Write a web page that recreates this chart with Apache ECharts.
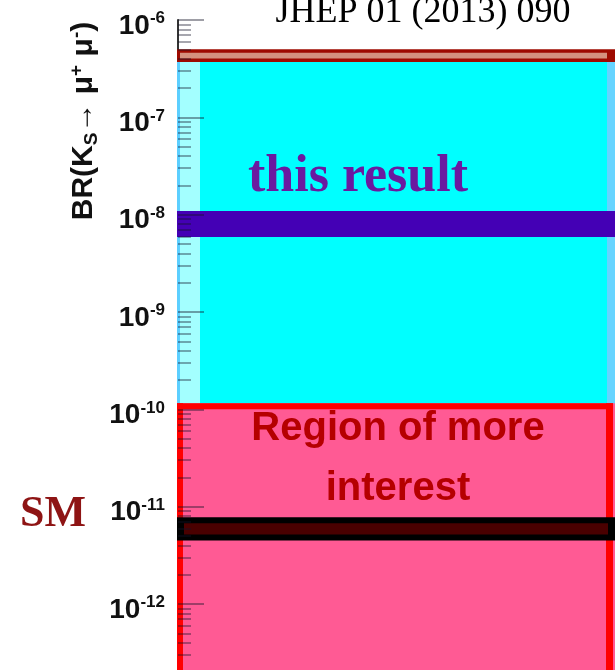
<!DOCTYPE html>
<html>
<head>
<meta charset="utf-8">
<script src="https://cdn.jsdelivr.net/npm/echarts@6/dist/echarts.min.js"></script>
<style>
  html, body { margin: 0; padding: 0; background: #ffffff; }
  #chart { width: 615px; height: 670px; }
</style>
</head>
<body>
<div id="chart"></div>
<script>
// Branching-ratio axis: decades labelled as 10^n
const decadeExponents = [-12, -11, -10, -9, -8, -7, -6];
const minorMultipliers = [2, 3, 4, 5, 6, 7, 8, 9];
const axisMin = 2.1e-13;
const axisMax = 1e-6;

// Branching-ratio ranges drawn as horizontal bands
const previousLimitBand = [3.7e-7, 5.0e-7];
const openRegion = [1e-10, 3.7e-7];
const thisResultBand = [5.9e-9, 1.09e-8];
const interestRegion = [2.1e-13, 1e-10];
const smBand = [4.5e-12, 7.8e-12];

const majorTicks = decadeExponents.map(e => Math.pow(10, e));
const minorTicks = [];
[-13].concat(decadeExponents).forEach(e => {
  minorMultipliers.forEach(m => {
    const v = m * Math.pow(10, e);
    if (v > axisMin && v < axisMax) minorTicks.push(v);
  });
});

const chart = echarts.init(document.getElementById('chart'), null, { renderer: 'canvas' });

function bandBox(params, api) {
  const cs = params.coordSys;
  return {
    left: cs.x,
    right: cs.x + cs.width,
    top: api.coord([0, api.value(1)])[1],
    bottom: api.coord([0, api.value(0)])[1]
  };
}
function rect(x0, y0, x1, y1, fill) {
  return { type: 'rect', shape: { x: x0, y: y0, width: x1 - x0, height: y1 - y0 }, style: { fill: fill } };
}

const logAxisBase = {
  type: 'log', logBase: 10, min: axisMin, max: axisMax, position: 'left',
  splitLine: { show: false }, minorTick: { show: false }, minorSplitLine: { show: false }
};

const option = {
  animation: false,
  grid: { left: 178, right: 0, top: 20, bottom: 0 },
  xAxis: { type: 'value', min: 0, max: 1, show: false },
  yAxis: [
    Object.assign({}, logAxisBase, {
      z: 5,
      axisLine: { show: false },
      axisTick: { show: true, inside: true, length: 26, customValues: majorTicks,
        lineStyle: { color: 'rgba(20,20,40,0.55)', width: 1.5 } },
      axisLabel: {
        show: true, customValues: majorTicks, margin: 13, padding: [10, 0, 0, 0],
        formatter: function (v) {
          const e = Math.round(Math.log10(v));
          return '{b|10}{s|' + e + '}';
        },
        rich: {
          b: { fontFamily: 'Liberation Sans', fontWeight: 'bold', fontSize: 28, color: '#111', lineHeight: 30, verticalAlign: 'bottom' },
          s: { fontFamily: 'Liberation Sans', fontWeight: 'bold', fontSize: 17, color: '#111', lineHeight: 17, verticalAlign: 'top' }
        }
      }
    }),
    Object.assign({}, logAxisBase, {
      z: 5,
      axisLine: { show: false },
      axisTick: { show: true, inside: true, length: 13, customValues: minorTicks,
        lineStyle: { color: 'rgba(20,20,40,0.5)', width: 1.5 } },
      axisLabel: { show: false }
    }),
    Object.assign({}, logAxisBase, {
      z: 0,
      axisLine: { show: true, lineStyle: { color: '#333', width: 2 } },
      axisTick: { show: false },
      axisLabel: { show: false }
    })
  ],
  series: [
    {
      name: 'open region', type: 'custom', coordinateSystem: 'cartesian2d',
      encode: { y: [0, 1] }, data: [openRegion],
      renderItem: function (params, api) {
        const b = bandBox(params, api);
        return { type: 'group', children: [
          rect(b.left - 1, b.top, b.right, b.bottom, '#a3ffff'),
          rect(b.left - 1, b.top, b.left + 2, b.bottom, '#5ccfff'),
          rect(b.left + 22, b.top, b.right - 8, b.bottom, '#00ffff'),
          rect(b.right - 8, b.top, b.right, b.bottom, '#66d4ff')
        ] };
      }
    },
    {
      name: 'previous limit', type: 'custom', coordinateSystem: 'cartesian2d',
      encode: { y: [0, 1] }, data: [previousLimitBand],
      renderItem: function (params, api) {
        const b = bandBox(params, api);
        return { type: 'group', children: [
          rect(b.left - 1, b.top, b.right, b.bottom, '#9e0a00'),
          rect(b.left + 2, b.top + 3.5, b.right - 8, b.bottom - 3.5, '#d4917f')
        ] };
      }
    },
    {
      name: 'this result', type: 'custom', coordinateSystem: 'cartesian2d',
      encode: { y: [0, 1] }, data: [thisResultBand],
      renderItem: function (params, api) {
        const b = bandBox(params, api);
        return rect(b.left - 1, b.top, b.right, b.bottom, '#4400b5');
      }
    },
    {
      name: 'region of more interest', type: 'custom', coordinateSystem: 'cartesian2d',
      encode: { y: [0, 1] }, data: [interestRegion],
      renderItem: function (params, api) {
        const b = bandBox(params, api);
        return { type: 'group', children: [
          rect(b.left - 1, b.top - 6, b.right, b.bottom, '#ff5a94'),
          rect(b.left - 1, b.top - 6, b.right - 2, b.top, '#ff0000'),
          rect(b.left - 1, b.top - 6, b.left + 5, b.bottom, '#ff0000'),
          rect(b.right - 9, b.top - 6, b.right - 2, b.bottom, '#ff0000')
        ] };
      }
    },
    {
      name: 'SM', type: 'custom', coordinateSystem: 'cartesian2d',
      encode: { y: [0, 1] }, data: [smBand],
      renderItem: function (params, api) {
        const b = bandBox(params, api);
        return { type: 'group', children: [
          rect(b.left - 1, b.top, b.right, b.bottom, '#000000'),
          rect(b.left + 6, b.top + 6, b.right - 7, b.bottom - 6, '#4a0000')
        ] };
      }
    }
  ],
  graphic: [
    { type: 'text', z: 100, style: { text: 'JHEP 01 (2013) 090', x: 423, y: 13, align: 'center', verticalAlign: 'middle',
        font: '36px "Liberation Serif"', fill: '#000' } },
    { type: 'text', z: 100, style: { text: 'this result', x: 358, y: 178, align: 'center', verticalAlign: 'middle',
        font: 'bold 52px "Liberation Serif"', fill: '#6a1aa0' } },
    { type: 'text', z: 100, style: { text: 'Region of more', x: 398, y: 429, align: 'center', verticalAlign: 'middle',
        font: 'bold 40px "Liberation Sans"', fill: '#b50000' } },
    { type: 'text', z: 100, style: { text: 'interest', x: 398, y: 489, align: 'center', verticalAlign: 'middle',
        font: 'bold 40px "Liberation Sans"', fill: '#b50000' } },
    { type: 'text', z: 100, style: { text: 'SM', x: 53, y: 515, align: 'center', verticalAlign: 'middle',
        font: 'bold 44px "Liberation Serif"', fill: '#8e1414' } },
    { type: 'text', z: 100, x: 84, y: 121, rotation: Math.PI / 2,
      style: {
        text: '{t|BR(K}{sub|S}{t|\u2192 \u03bc}{sup|+}{t| \u03bc}{sup|-}{t|)}',
        align: 'center', verticalAlign: 'middle',
        rich: {
          t: { fontFamily: 'Liberation Sans', fontWeight: 'bold', fontSize: 30, fill: '#111', lineHeight: 34, verticalAlign: 'middle' },
          sub: { fontFamily: 'Liberation Sans', fontWeight: 'bold', fontSize: 19, fill: '#111', lineHeight: 18, verticalAlign: 'bottom' },
          sup: { fontFamily: 'Liberation Sans', fontWeight: 'bold', fontSize: 19, fill: '#111', lineHeight: 18, verticalAlign: 'top' }
        }
      } }
  ]
};

chart.setOption(option);
</script>
</body>
</html>
